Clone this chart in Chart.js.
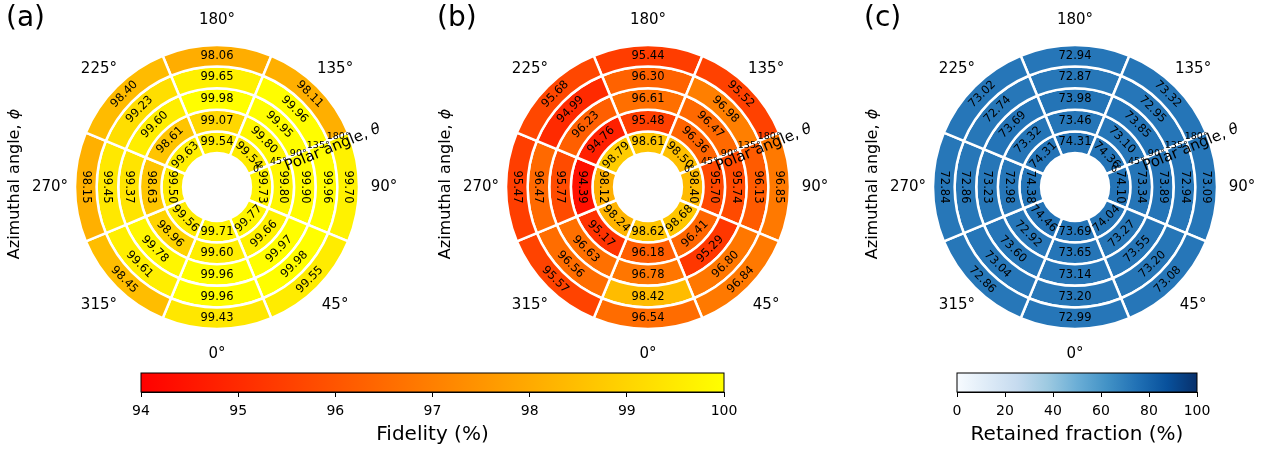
<!DOCTYPE html>
<html>
<head>
<meta charset="utf-8">
<script src="https://cdn.jsdelivr.net/npm/chart.js@4.4.1/dist/chart.umd.min.js"></script>
<style>
  html, body { margin: 0; padding: 0; background: #fff; }
  body { width: 1278px; height: 456px; position: relative; overflow: hidden; }
  canvas { position: absolute; }
</style>
</head>
<body>
<canvas id="panelA" width="430" height="360" style="left:0px;top:0px"></canvas>
<canvas id="panelB" width="430" height="360" style="left:431px;top:0px"></canvas>
<canvas id="panelC" width="420" height="360" style="left:858px;top:0px"></canvas>
<canvas id="barFid" width="680" height="100" style="left:100px;top:356px"></canvas>
<canvas id="barRet" width="340" height="100" style="left:900px;top:356px"></canvas>
<script>
const azimuthLabels = ['0°', '45°', '90°', '135°', '180°', '225°', '270°', '315°'];
const polarLabels = ['0°', '45°', '90°', '135°', '180°'];
const sectorSpan = [45, 45, 45, 45, 45, 45, 45, 45];

// (a) fidelity, one array per polar-angle ring, values by azimuth 0°..315°
const fidA_p0   = [99.71, 99.77, 99.73, 99.54, 99.54, 99.63, 99.50, 99.56];
const fidA_p45  = [99.60, 99.66, 99.80, 99.80, 99.07, 98.61, 98.63, 98.96];
const fidA_p90  = [99.96, 99.97, 99.90, 99.95, 99.98, 99.60, 99.37, 99.78];
const fidA_p135 = [99.96, 99.98, 99.96, 99.96, 99.65, 99.23, 99.45, 99.61];
const fidA_p180 = [99.43, 99.55, 99.70, 98.11, 98.06, 98.40, 98.15, 98.45];

// (b) fidelity
const fidB_p0   = [98.62, 98.68, 98.40, 98.50, 98.61, 98.79, 98.12, 98.24];
const fidB_p45  = [96.18, 96.41, 95.70, 96.36, 95.48, 94.76, 94.39, 95.17];
const fidB_p90  = [96.78, 95.29, 95.74, 96.47, 96.61, 96.23, 95.77, 96.63];
const fidB_p135 = [98.42, 96.80, 96.13, 96.98, 96.30, 94.99, 96.47, 96.56];
const fidB_p180 = [96.54, 96.84, 96.85, 95.52, 95.44, 95.68, 95.47, 95.57];

// (c) retained fraction
const retC_p0   = [73.69, 74.04, 74.10, 74.36, 74.31, 74.31, 74.38, 74.46];
const retC_p45  = [73.65, 73.27, 73.34, 73.10, 73.46, 73.32, 72.98, 72.92];
const retC_p90  = [73.14, 73.55, 73.89, 73.85, 73.98, 73.69, 73.23, 73.60];
const retC_p135 = [73.20, 73.20, 72.94, 72.95, 72.87, 72.74, 72.86, 73.04];
const retC_p180 = [72.99, 73.08, 73.09, 73.32, 72.94, 73.02, 72.84, 72.86];

const fidelityTicks = [94, 95, 96, 97, 98, 99, 100];
const retainedTicks = [0, 20, 40, 60, 80, 100];

const FONT = '"DejaVu Sans"';
Chart.defaults.font.family = FONT;
Chart.defaults.color = '#000';

// doughnut runs clockwise from the top: 180°, 135°, 90°, 45°, 0°, 315°, 270°, 225°
const clockwiseFromTop = [4, 3, 2, 1, 0, 7, 6, 5];

const autumnStops = ['#ff0000', '#ffff00'];
const bluesStops = ['#f7fbff', '#deebf7', '#c6dbef', '#9ecae1', '#6baed6', '#4292c6', '#2171b5', '#08519c', '#08306b'];

function hexToRgb(h) {
  return [parseInt(h.slice(1, 3), 16), parseInt(h.slice(3, 5), 16), parseInt(h.slice(5, 7), 16)];
}

function makeColormap(stops, vmin, vmax) {
  const rgb = stops.map(hexToRgb);
  return function(v) {
    let t = (v - vmin) / (vmax - vmin);
    t = Math.min(1, Math.max(0, t));
    const pos = t * (rgb.length - 1);
    const i = Math.min(Math.floor(pos), rgb.length - 2);
    const f = pos - i;
    const c = rgb[i].map((a, k) => Math.round(a + (rgb[i + 1][k] - a) * f));
    return `rgb(${c[0]},${c[1]},${c[2]})`;
  };
}

const fidelityMap = makeColormap(autumnStops, fidelityTicks[0], fidelityTicks[fidelityTicks.length - 1]);
const retainedMap = makeColormap(bluesStops, retainedTicks[0], retainedTicks[retainedTicks.length - 1]);

// rings listed inner -> outer; chart.js wants outer ring first
function ringDatasets(rings, colormap) {
  return rings.slice().reverse().map(vals => {
    const v = clockwiseFromTop.map(i => vals[i]);
    return {
      data: clockwiseFromTop.map(i => sectorSpan[i]),
      values: v,
      backgroundColor: v.map(colormap),
      borderColor: '#ffffff',
      borderWidth: 2.5
    };
  });
}

// value printed in each cell, along the ring
const cellLabels = {
  id: 'cellLabels',
  afterDatasetsDraw(chart) {
    const ctx = chart.ctx;
    ctx.save();
    ctx.font = '11.5px ' + FONT;
    ctx.fillStyle = '#000';
    ctx.textAlign = 'center';
    ctx.textBaseline = 'middle';
    chart.data.datasets.forEach((ds, di) => {
      chart.getDatasetMeta(di).data.forEach((arc, i) => {
        const p = arc.getProps(['x', 'y', 'startAngle', 'endAngle', 'innerRadius', 'outerRadius'], true);
        const mid = (p.startAngle + p.endAngle) / 2;
        const r = (p.innerRadius + p.outerRadius) / 2;
        let rot = mid + Math.PI / 2;
        while (rot > Math.PI / 2 + 1e-6) rot -= Math.PI;
        while (rot <= -Math.PI / 2 + 1e-6) rot += Math.PI;
        ctx.save();
        ctx.translate(p.x + r * Math.cos(mid), p.y + r * Math.sin(mid));
        ctx.rotate(rot);
        ctx.fillText(ds.values[i].toFixed(2), 0, 0);
        ctx.restore();
      });
    });
    ctx.restore();
  }
};

function drawMixedText(ctx, plain, symbol, size, x, y, angle) {
  ctx.save();
  ctx.translate(x, y);
  ctx.rotate(angle);
  const f1 = size + 'px ' + FONT;
  const f2 = 'italic ' + size + 'px ' + FONT;
  ctx.font = f1;
  const w1 = ctx.measureText(plain).width;
  ctx.font = f2;
  const w2 = ctx.measureText(symbol).width;
  const x0 = -(w1 + w2) / 2;
  ctx.textAlign = 'left';
  ctx.textBaseline = 'middle';
  ctx.font = f1;
  ctx.fillText(plain, x0, 0);
  ctx.font = f2;
  ctx.fillText(symbol, x0 + w1, 0);
  ctx.restore();
}

// panel letter, azimuth ticks, polar-angle ticks and the two axis titles
const panelDecor = {
  id: 'panelDecor',
  afterDraw(chart, args, opts) {
    const ctx = chart.ctx;
    const arcs = chart.getDatasetMeta(0).data;
    const first = arcs[0].getProps(['x', 'y', 'outerRadius'], true);
    const cx = first.x, cy = first.y, R = first.outerRadius;
    ctx.save();
    ctx.fillStyle = '#000';

    ctx.font = '28px ' + FONT;
    ctx.textAlign = 'left';
    ctx.textBaseline = 'middle';
    ctx.fillText(opts.letter, 6, 19);

    ctx.font = '15px ' + FONT;
    ctx.textAlign = 'center';
    arcs.forEach((arc, i) => {
      const p = arc.getProps(['startAngle', 'endAngle'], true);
      const mid = (p.startAngle + p.endAngle) / 2;
      const r = R + 25;
      ctx.fillText(azimuthLabels[clockwiseFromTop[i]], cx + r * Math.cos(mid), cy + r * Math.sin(mid));
    });

    // polar ticks sit on the edge between the 135° and 90° sectors
    const edge = arcs[1].getProps(['endAngle'], true).endAngle;
    ctx.font = '9.5px ' + FONT;
    chart.data.datasets.forEach((ds, di) => {
      const a = chart.getDatasetMeta(di).data[1].getProps(['innerRadius', 'outerRadius'], true);
      const r = (a.innerRadius + a.outerRadius) / 2;
      ctx.fillText(polarLabels[polarLabels.length - 1 - di], cx + r * Math.cos(edge), cy + r * Math.sin(edge));
    });

    const ux = Math.cos(edge), uy = Math.sin(edge);
    drawMixedText(ctx, 'Polar angle, ', 'θ', 15,
      cx + 122 * ux - 8 * uy, cy + 122 * uy + 8 * ux, edge);
    drawMixedText(ctx, 'Azimuthal angle, ', 'ϕ', 16, cx - 202, cy - 3, -Math.PI / 2);
    ctx.restore();
  }
};

function makePanel(id, letter, rings, colormap) {
  const canvas = document.getElementById(id);
  new Chart(canvas, {
    type: 'doughnut',
    data: {
      labels: clockwiseFromTop.map(i => azimuthLabels[i]),
      datasets: ringDatasets(rings, colormap)
    },
    options: {
      responsive: false,
      animation: false,
      events: [],
      rotation: -22.5,
      radius: 142,
      cutout: '23.9%',
      layout: { padding: { left: 75, right: canvas.width - 359, top: 45, bottom: 31 } },
      plugins: {
        legend: { display: false },
        tooltip: { enabled: false },
        panelDecor: { letter: letter }
      }
    },
    plugins: [cellLabels, panelDecor]
  });
}

const colorbarFill = {
  id: 'colorbarFill',
  beforeDatasetsDraw(chart, args, opts) {
    const { ctx, chartArea: a } = chart;
    const g = ctx.createLinearGradient(a.left, 0, a.right, 0);
    opts.stops.forEach((c, i) => g.addColorStop(i / (opts.stops.length - 1), c));
    ctx.save();
    ctx.fillStyle = g;
    ctx.fillRect(a.left, a.top, a.right - a.left, a.bottom - a.top);
    ctx.strokeStyle = '#000';
    ctx.lineWidth = 1;
    ctx.strokeRect(a.left, a.top, a.right - a.left, a.bottom - a.top);
    ctx.restore();
  }
};

function makeColorbar(id, ticks, title, stops, padLeft, padRight) {
  new Chart(document.getElementById(id), {
    type: 'scatter',
    data: { datasets: [{ data: [] }] },
    options: {
      responsive: false,
      animation: false,
      events: [],
      layout: { padding: { left: padLeft, right: padRight, top: 17, bottom: 9 } },
      plugins: {
        legend: { display: false },
        tooltip: { enabled: false },
        colorbarFill: { stops: stops }
      },
      scales: {
        x: {
          type: 'linear',
          min: ticks[0],
          max: ticks[ticks.length - 1],
          afterBuildTicks: s => { s.ticks = ticks.map(v => ({ value: v })); },
          afterFit: s => { s.height = 55; s.paddingLeft = 0; s.paddingRight = 0; },
          ticks: { color: '#000', font: { size: 14 }, padding: 6, maxRotation: 0, autoSkip: false },
          grid: { drawOnChartArea: false, drawTicks: true, tickLength: 5, color: '#000', lineWidth: 1 },
          border: { display: true, color: '#000', width: 1 },
          title: { display: true, text: title, color: '#000', font: { size: 20 }, padding: { top: 0, bottom: 0 } }
        },
        y: { display: false, min: 0, max: 1 }
      }
    },
    plugins: [colorbarFill]
  });
}

makePanel('panelA', '(a)', [fidA_p0, fidA_p45, fidA_p90, fidA_p135, fidA_p180], fidelityMap);
makePanel('panelB', '(b)', [fidB_p0, fidB_p45, fidB_p90, fidB_p135, fidB_p180], fidelityMap);
makePanel('panelC', '(c)', [retC_p0, retC_p45, retC_p90, retC_p135, retC_p180], retainedMap);

makeColorbar('barFid', fidelityTicks, 'Fidelity (%)', autumnStops, 41, 56);
makeColorbar('barRet', retainedTicks, 'Retained fraction (%)', bluesStops, 57, 43);
</script>
</body>
</html>
